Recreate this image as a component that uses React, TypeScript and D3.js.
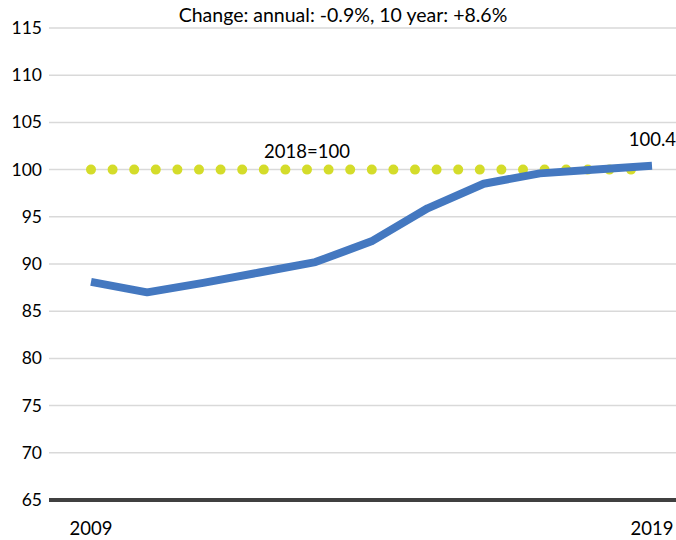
import React from "react";
import * as d3 from "d3";

const years = [2009, 2010, 2011, 2012, 2013, 2014, 2015, 2016, 2017, 2018, 2019];
const indexValues = [88.1, 87.0, 88.0, 89.1, 90.2, 92.4, 95.9, 98.5, 99.6, 100.0, 100.4];
const baseValue = 100;
const yTicks = [65, 70, 75, 80, 85, 90, 95, 100, 105, 110, 115];
const xTickLabels = ["2009", "2019"];
const title = "Change: annual: -0.9%, 10 year: +8.6%";
const baseLabel = "2018=100";
const endLabel = "100.4";

const W = 676;
const H = 540;
const FONT = "Lato, 'Open Sans', sans-serif";

export default function App() {
  const x = d3.scaleLinear().domain([2009, 2019]).range([91, 652]);
  const y = d3.scaleLinear().domain([65, 115]).range([500, 28]);
  const gridLeft = 49;
  const gridRight = 676;

  const line = d3
    .line<number>()
    .x((_, i) => x(years[i]))
    .y((d) => y(d));

  const baseLine = d3
    .line<number>()
    .x((d) => x(d))
    .y(() => y(baseValue));

  return (
    <svg
      width={W}
      height={H}
      style={{ position: "absolute", left: 0, top: 0, background: "#fff" }}
      fontFamily={FONT}
    >
      {yTicks.map((t) =>
        t === 65 ? null : (
          <line
            key={"g" + t}
            x1={gridLeft}
            x2={gridRight}
            y1={y(t)}
            y2={y(t)}
            stroke="#d9d9d9"
            strokeWidth={1.5}
          />
        )
      )}
      {yTicks.map((t) => (
        <text
          key={"t" + t}
          x={42}
          y={y(t) + 6}
          textAnchor="end"
          fontSize={17.5}
          fill="#000"
        >
          {t}
        </text>
      ))}
      <line
        x1={gridLeft}
        x2={gridRight}
        y1={y(65)}
        y2={y(65)}
        stroke="#404040"
        strokeWidth={4}
      />
      <path
        d={baseLine([2009, 2019]) || ""}
        fill="none"
        stroke="#d4dc2a"
        strokeWidth={10}
        strokeLinecap="round"
        strokeDasharray="0 21.6"
      />
      <path
        d={line(indexValues) || ""}
        fill="none"
        stroke="#4478c0"
        strokeWidth={8}
        strokeLinejoin="round"
      />
      <text x={307} y={158} textAnchor="middle" fontSize={18.5} fill="#000">
        {baseLabel}
      </text>
      <text x={676} y={146} textAnchor="end" fontSize={18.5} fill="#000">
        {endLabel}
      </text>
      <text x={343} y={22} textAnchor="middle" fontSize={19.5} fill="#000">
        {title}
      </text>
      {xTickLabels.map((l) => (
        <text
          key={l}
          x={x(+l)}
          y={535}
          textAnchor="middle"
          fontSize={18.5}
          fill="#000"
        >
          {l}
        </text>
      ))}
    </svg>
  );
}
